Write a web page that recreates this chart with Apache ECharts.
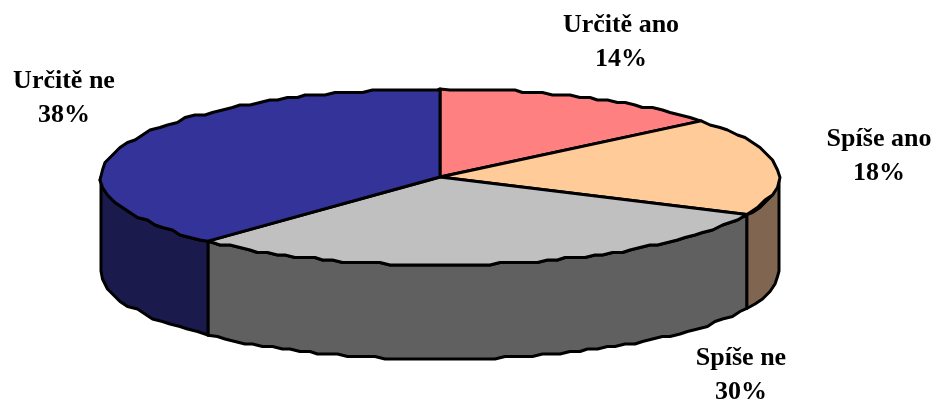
<!DOCTYPE html>
<html lang="en">
<head>
    <meta charset="UTF-8">
    <title>Pie</title>
    <style>html, body { margin: 0; padding: 0; background: #fff; }</style>
</head>
<body>
<div id="pie3d" style="width:936px;height:403px;"></div>
<script src="https://cdn.jsdelivr.net/npm/echarts@6/dist/echarts.min.js"></script>
<script type="text/javascript">
    var categories = ['Určitě ano', 'Spíše ano', 'Spíše ne', 'Určitě ne'];
    var values = [14, 18, 30, 38];
    var topColors = ['#ff8080', '#ffcc99', '#c0c0c0', '#333399'];
    var sideColors = ['#806040', '#806650', '#606060', '#1a1a4d'];
    var labelX = [621, 879, 741, 64];
    var labelY = [42, 156, 375, 98];

    // ellipse of the pie top, ECharts has no flat 3d pie so it is projected by hand
    var cx = 440, cy = 177, rx = 339, ry = 88, depth = 94;
    var stepSize = 2.5; // the picture has a slightly stepped edge
    var spacing = 9;    // px between outline points

    var total = values.reduce(function (a, b) { return a + b; }, 0);

    function snap(v) {
        return Math.round(v / stepSize) * stepSize;
    }

    function arc(from, to, dy) {
        var pts = [];
        var n = Math.ceil(Math.abs(to - from) * 400);
        var lastX = null, lastY = null;
        for (var i = 0; i <= n; i++) {
            var t = from + (to - from) * i / n;
            var x = cx + rx * Math.sin(t), y = cy - ry * Math.cos(t);
            if (i === 0 || i === n) {
                pts.push([x, y + dy]);
                lastX = x; lastY = y;
            } else if (Math.sqrt((x - lastX) * (x - lastX) + (y - lastY) * (y - lastY)) >= spacing) {
                pts.push([snap(x), snap(y) + dy]);
                lastX = x; lastY = y;
            }
        }
        return pts;
    }

    function renderItem(params, api) {
        var i = params.dataIndex;
        var before = 0;
        for (var k = 0; k < i; k++) before += values[k];
        var a = before / total * Math.PI * 2;
        var b = (before + api.value(0)) / total * Math.PI * 2;
        var children = [];

        // front wall, only the part between 90 and 270 degrees shows
        var s = Math.max(a, Math.PI / 2), e = Math.min(b, Math.PI * 1.5);
        if (s < e) {
            var wall = arc(s, e, 0).concat(arc(e, s, depth));
            children.push({
                type: 'polygon',
                shape: { points: wall },
                style: { fill: sideColors[i], stroke: '#000', lineWidth: 3, lineJoin: 'round' }
            });
        }

        var top = [[cx, cy]].concat(arc(a, b, 0));
        children.push({
            type: 'polygon',
            shape: { points: top },
            style: { fill: topColors[i], stroke: '#000', lineWidth: 3, lineJoin: 'round' }
        });

        children.push({
            type: 'text',
            x: labelX[i],
            y: labelY[i],
            style: {
                text: categories[i] + '\n' + api.value(0) + '%',
                fill: '#000',
                font: 'bold 26px "Liberation Serif"',
                lineHeight: 34,
                align: 'center',
                verticalAlign: 'middle'
            }
        });
        return { type: 'group', children: children };
    }

    var myChart = echarts.init(document.getElementById('pie3d'));
    var option = {
        animation: false,
        series: [{
            type: 'custom',
            coordinateSystem: 'none',
            renderItem: renderItem,
            data: values.map(function (v) { return [v]; })
        }]
    };
    myChart.setOption(option);
</script>
</body>
</html>
